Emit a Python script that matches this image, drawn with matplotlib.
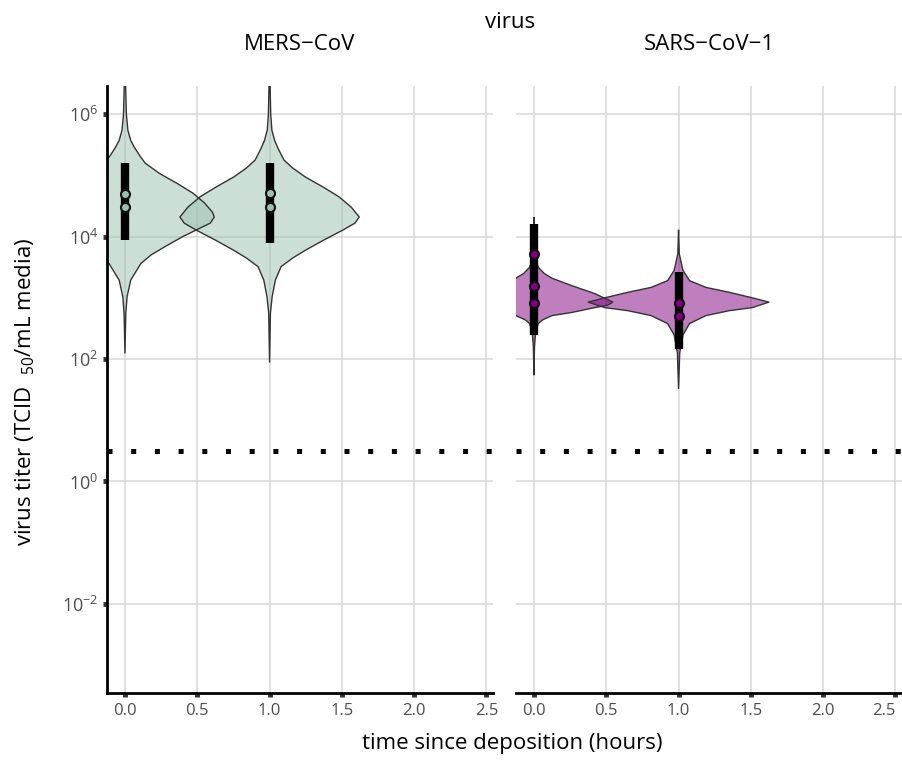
import matplotlib
matplotlib.use("Agg")
import matplotlib.pyplot as plt
import numpy as np
from matplotlib.ticker import FixedLocator, NullLocator

plt.rcParams['font.family'] = ['Open Sans', 'DejaVu Sans']
plt.rcParams['mathtext.fontset'] = 'custom'
plt.rcParams['mathtext.rm'] = 'Open Sans'
plt.rcParams['mathtext.it'] = 'Open Sans:italic'
plt.rcParams['mathtext.bf'] = 'Open Sans:bold'

# ---- data (log10 titer) ----
viruses = ["MERS\u2212CoV", "SARS\u2212CoV\u22121"]
times = [0.0, 1.0]
detection_limit = 10 ** 0.5

# violin outlines: log10 levels (top -> bottom) and half widths (hours)
mers0_lv = [6.9, 6.0, 5.74, 5.57, 5.46, 5.33, 5.20, 5.03, 4.87, 4.71, 4.55, 4.40, 4.32,
            4.22, 4.14, 4.00, 3.84, 3.70, 3.56, 3.29, 3.02, 2.75, 2.10]
mers0_hw = [0, 0.01, 0.02, 0.04, 0.065, 0.10, 0.14, 0.24, 0.36, 0.47, 0.55, 0.605, 0.618,
            0.59, 0.52, 0.40, 0.28, 0.18, 0.11, 0.04, 0.015, 0.006, 0]
mers1_lv = [6.9, 6.0, 5.74, 5.57, 5.41, 5.25, 5.12, 4.97, 4.81, 4.65, 4.48, 4.32, 4.22,
            4.11, 3.95, 3.78, 3.65, 3.51, 3.29, 3.02, 2.75, 1.95]
mers1_hw = [0, 0.008, 0.016, 0.035, 0.065, 0.10, 0.16, 0.25, 0.37, 0.48, 0.565, 0.62, 0.59,
            0.51, 0.38, 0.25, 0.16, 0.08, 0.04, 0.018, 0.006, 0]
sars0_lv = [4.31, 4.0, 3.6, 3.50, 3.40, 3.32, 3.20, 3.07, 2.97, 2.93, 2.88, 2.84, 2.76,
            2.71, 2.64, 2.58, 2.45, 2.2, 1.74]
sars0_hw = [0, 0.005, 0.015, 0.03, 0.07, 0.125, 0.26, 0.42, 0.51, 0.545, 0.51, 0.42, 0.26,
            0.125, 0.06, 0.03, 0.012, 0.004, 0]
sars1_lv = [4.10, 3.72, 3.45, 3.28, 3.17, 3.09, 3.00, 2.93, 2.84, 2.79, 2.71, 2.58, 2.39,
            2.1, 1.52]
sars1_hw = [0, 0.005, 0.03, 0.076, 0.19, 0.35, 0.51, 0.625, 0.51, 0.35, 0.19, 0.076, 0.03,
            0.008, 0]

# credible intervals (log10) and observed points (log10)
mers_ci = [(3.94, 5.21), (3.89, 5.20)]
sars_ci = [(2.39, 4.20), (2.17, 3.42)]
mers_pts = [[4.69, 4.49], [4.71, 4.49]]
sars_pts = [[3.71, 3.19, 2.92], [2.92, 2.70]]

x_ticks = [0, 0.5, 1, 1.5, 2, 2.5]
x_labels = ['0.0', '0.5', '1.0', '1.5', '2.0', '2.5']
y_ticks = [1e-2, 1, 1e2, 1e4, 1e6]
y_labels = [r'$10^{-2}$', r'$10^{0}$', r'$10^{2}$', r'$10^{4}$', r'$10^{6}$']

panels = [
    dict(name=viruses[0], violins=[(mers0_lv, mers0_hw), (mers1_lv, mers1_hw)],
         ci=mers_ci, pts=mers_pts, color='#9bc1b1'),
    dict(name=viruses[1], violins=[(sars0_lv, sars0_hw), (sars1_lv, sars1_hw)],
         ci=sars_ci, pts=sars_pts, color='#800080'),
]

W, H = 903, 760
fig = plt.figure(figsize=(W / 100, H / 100), dpi=100)
ax_bottom, ax_top = 693, 86
axes_left = [107, 516]
ax_w = 386

for i, p in enumerate(panels):
    ax = fig.add_axes([axes_left[i] / W, 1 - ax_bottom / H, ax_w / W, (ax_bottom - ax_top) / H])
    ax.set_yscale('log')
    ax.set_xlim(-0.124, 2.545)
    ax.set_ylim(10 ** -3.455, 10 ** 6.46)
    ax.set_axisbelow(True)
    ax.grid(True, color='#d9d9d9', lw=1.1)

    for t, (lv, hw) in zip(times, p['violins']):
        lv = np.array(lv)
        hw = np.array(hw)
        xs = np.concatenate([t + hw, t - hw[::-1]])
        ys = 10 ** np.concatenate([lv, lv[::-1]])
        ax.fill(xs, ys, facecolor=p['color'], alpha=0.5, edgecolor='none', zorder=2)
        ax.plot(xs, ys, color='#333333', lw=1.0, zorder=2.5)

    for t, (lo, hi) in zip(times, p['ci']):
        ax.vlines(t, 10 ** lo, 10 ** hi, color='black', lw=6, zorder=3)
    for t, pts in zip(times, p['pts']):
        ax.plot([t] * len(pts), 10 ** np.array(pts), 'o', ms=6.5, mfc=p['color'],
                mec='#111111', mew=1.5, zorder=4, ls='none')

    ax.axhline(detection_limit, color='black', lw=3.6, dashes=(1, 3.74), zorder=3)

    ax.xaxis.set_major_locator(FixedLocator(x_ticks))
    ax.set_xticklabels(x_labels)
    ax.yaxis.set_major_locator(FixedLocator(y_ticks))
    ax.yaxis.set_minor_locator(NullLocator())
    ax.set_yticklabels(y_labels)

    for s in ['top', 'right']:
        ax.spines[s].set_visible(False)
    ax.spines['bottom'].set_linewidth(2.0)
    ax.spines['left'].set_linewidth(2.0)
    ax.tick_params(axis='x', length=3, width=3.5, color='#333333', labelcolor='#4d4d4d',
                   labelsize=12, pad=4)
    if i == 0:
        ax.tick_params(axis='y', length=3, width=3.5, color='#333333', labelcolor='#4d4d4d',
                       labelsize=13, pad=3)
    else:
        ax.spines['left'].set_visible(False)
        ax.tick_params(axis='y', length=0, labelleft=False)
        ax.get_xticklabels()[-1].set_horizontalalignment('right')

    cx = (axes_left[i] + ax_w / 2) / W
    fig.text(cx, 1 - 44 / H, p['name'], ha='center', va='center', fontsize=16)

fig.text(510 / W, 1 - 22 / H, 'virus', ha='center', va='center', fontsize=16)
fig.text(512 / W, 1 - 743 / H, 'time since deposition (hours)', ha='center', va='center',
         fontsize=16)
fig.text(25 / W, 1 - 392 / H, 'virus titer (TCID\u2002$_{50}$/mL media)', ha='center',
         va='center', rotation=90, fontsize=16)

fig.savefig('out.png', dpi=100)
